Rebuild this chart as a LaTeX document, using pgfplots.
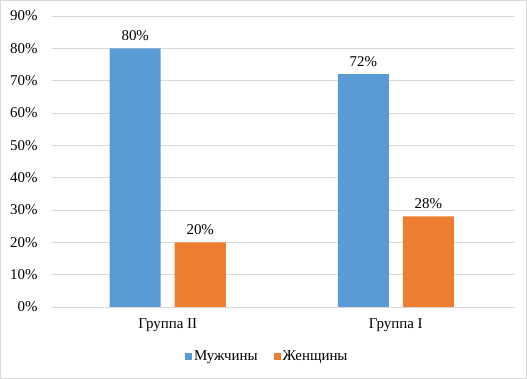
\documentclass[border=0pt]{standalone}
\usepackage{pgfplots}
\pgfplotsset{compat=1.18}
\usepackage{fontspec}
\setmainfont{Liberation Serif}
\definecolor{cblue}{HTML}{5B9BD5}
\definecolor{corange}{HTML}{ED7D31}
\definecolor{cgrid}{HTML}{D9D9D9}
\begin{document}
\begin{tikzpicture}
\begin{axis}[
  scale only axis,
  width=463bp, height=291bp,
  ymin=0, ymax=90,
  xmin=-0.5, xmax=1.5,
  ytick={0,10,...,90},
  yticklabel={\pgfmathprintnumber{\tick}\%},
  xtick={0,0.985},
  xticklabels={Группа II, Группа I},
  /pgf/number format/assume math mode=true,
  font=\fontsize{15}{17}\selectfont,
  ticklabel style={font=\fontsize{15}{17}\selectfont},
  axis line style={draw=none},
  major tick length=0pt,
  ymajorgrids,
  grid style={cgrid, line width=0.8bp},
  ybar, bar width=51bp,
  xticklabel style={yshift=-8bp},
  yticklabel style={xshift=-11bp},
  nodes near coords={\pgfmathprintnumber{\pgfplotspointmeta}\%},
  nodes near coords style={font=\fontsize{15}{17}\selectfont, yshift=4bp},
  legend columns=2,
  legend style={draw=none, at={(0.465,-0.135)}, anchor=north, font=\fontsize{15}{17}\selectfont,
    /tikz/every even column/.append style={column sep=14bp}},
  legend image code/.code={\fill[#1] (0bp,-3.5bp) rectangle (7bp,3.5bp);},
  clip=false,
]
\addplot[fill=cblue, draw=none, bar shift=-32.5bp] coordinates {(0,80) (0.985,72)};
\addplot[fill=corange, draw=none, bar shift=32.5bp] coordinates {(0,20) (0.985,28)};
\legend{Мужчины, Женщины}
\draw[cgrid, line width=1bp] ([xshift=-51.5bp,yshift=-71.5bp]rel axis cs:0,0) rectangle ([xshift=11.5bp,yshift=15.5bp]rel axis cs:1,1);
\end{axis}
\end{tikzpicture}
\end{document}
